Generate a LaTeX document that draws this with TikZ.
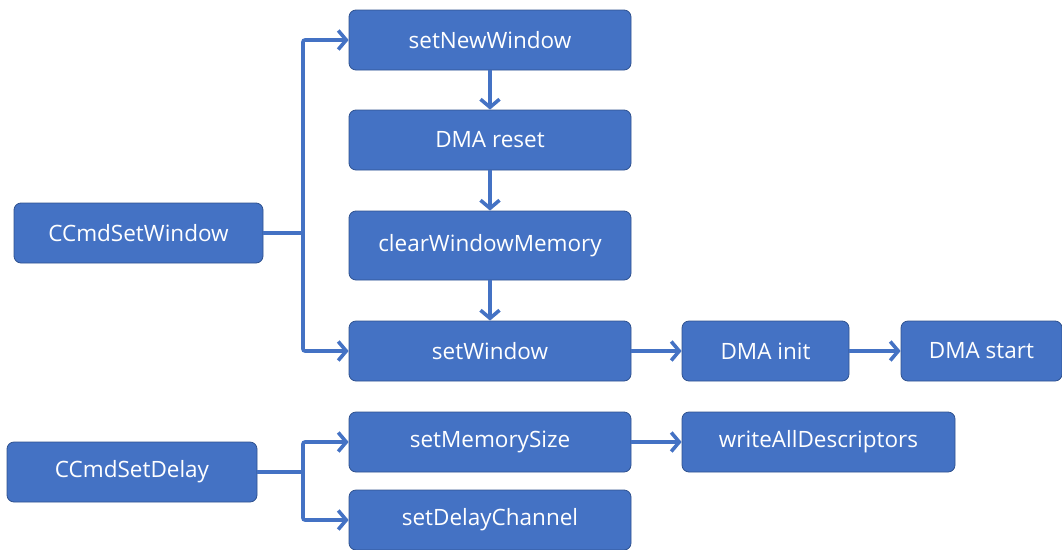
\documentclass[tikz,border=0pt]{standalone}
\usepackage{fontspec}
\setmainfont{Open Sans}
\usetikzlibrary{arrows.meta}
\definecolor{boxfill}{HTML}{4472C4}
\definecolor{boxline}{HTML}{2F528F}
\tikzset{
  box/.style={draw=boxline, line width=0.8pt, fill=boxfill, rounded corners=7pt, text=white,
    font=\fontsize{22.5}{26}\selectfont, inner sep=0pt},
  conn/.style={draw=boxfill, line width=3.6pt},
  arr/.style={conn, -{Straight Barb[length=8pt,width=19pt,line width=3.6pt]}},
}
\begin{document}
\begin{tikzpicture}[x=1pt,y=-1pt]
\useasboundingbox (0,0) rectangle (1062,549);
\newcommand{\bx}[6]{\node[box, minimum width=#4pt, minimum height=#5pt] (#1) at (#2,#3) {#6};}
\bx{snw}{490}{40}{282}{60}{setNewWindow}
\bx{dmar}{490}{140}{282}{60}{DMA reset}
\bx{cwm}{490}{245.5}{282}{69}{clearWindowMemory}
\bx{sw}{490}{351}{282}{60}{setWindow}
\bx{dmai}{765.5}{351}{167}{60}{DMA init}
\bx{dmas}{981.5}{351}{161}{60}{DMA start}
\bx{csw}{138.5}{233}{249}{60}{CCmdSetWindow}
\bx{csd}{132}{472}{250}{60}{CCmdSetDelay}
\bx{sms}{490}{442}{282}{60}{setMemorySize}
\bx{wad}{818.5}{442}{273}{60}{writeAllDescriptors}
\bx{sdc}{490}{520}{282}{60}{setDelayChannel}
\coordinate (j1) at (303,233);
\coordinate (j2) at (303,472);
\draw[conn] (csw.east) -- (j1);
\draw[arr, rounded corners=2pt] (j1) |- (snw.west);
\draw[arr, rounded corners=2pt] (j1) |- (sw.west);
\draw[arr] (snw.south) -- (dmar.north);
\draw[arr] (dmar.south) -- (cwm.north);
\draw[arr] (cwm.south) -- (sw.north);
\draw[arr] (sw.east) -- (dmai.west);
\draw[arr] (dmai.east) -- (dmas.west);
\draw[conn] (csd.east) -- (j2);
\draw[arr, rounded corners=2pt] (j2) |- (sms.west);
\draw[arr, rounded corners=2pt] (j2) |- (sdc.west);
\draw[arr] (sms.east) -- (wad.west);
\end{tikzpicture}
\end{document}
